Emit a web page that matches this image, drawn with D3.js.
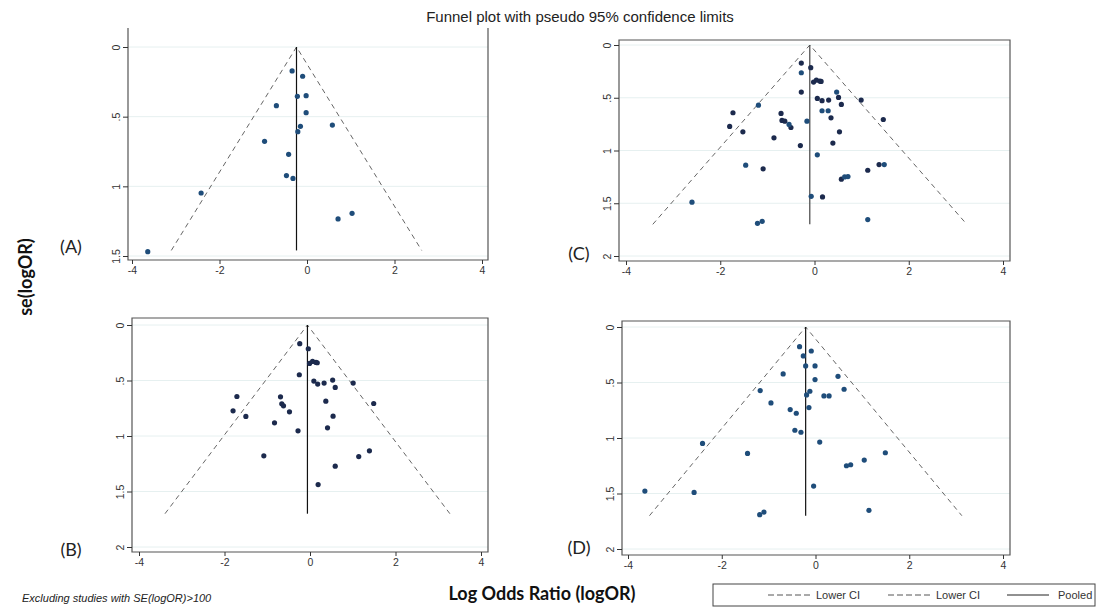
<!DOCTYPE html>
<html>
<head>
<meta charset="utf-8">
<script src="https://cdn.jsdelivr.net/npm/d3@7"></script>
<style>
  body { margin: 0; background: #fff; }
  svg text { font-family: "Liberation Sans", Arial, sans-serif; }
</style>
</head>
<body>
<svg id="chart" width="1106" height="610"></svg>
<script>
// funnel plots, four panels: [logOR, se(logOR)]

var xTicks = [-4, -2, 0, 2, 4];
var yTicksA = [0, 0.5, 1, 1.5];
var yTicksFull = [0, 0.5, 1, 1.5, 2];
var yTickLabels = ["0", ".5", "1", "1.5", "2"];

var pointsA = [
  [-0.34, 0.172], [-0.10, 0.21], [-0.22, 0.354], [-0.02, 0.349], [-0.70, 0.421],
  [-0.02, 0.471], [-0.15, 0.569], [-0.21, 0.608], [0.58, 0.560], [-0.97, 0.677],
  [-0.42, 0.770], [-0.47, 0.923], [-0.32, 0.943], [-2.42, 1.048], [1.03, 1.194],
  [0.71, 1.234], [-3.64, 1.469]
];

var pointsB = [
  [-0.24, 0.168], [-0.04, 0.214], [-0.25, 0.448], [-0.01, 0.346], [0.06, 0.328],
  [0.14, 0.337], [0.17, 0.340], [0.09, 0.505], [0.18, 0.532], [0.33, 0.523],
  [0.53, 0.496], [1.01, 0.523], [0.59, 0.562], [0.37, 0.686], [1.49, 0.707],
  [-1.71, 0.644], [-0.69, 0.647], [-0.66, 0.710], [-0.62, 0.728], [-0.48, 0.782],
  [-1.80, 0.773], [-1.50, 0.824], [-0.83, 0.881], [0.54, 0.821], [0.41, 0.926],
  [-0.28, 0.953], [-1.08, 1.179], [1.14, 1.185], [1.39, 1.134], [0.59, 1.272],
  [0.19, 1.438]
];

// panel C mixes the two marker shades
var pointsCDark = [
  [-0.28, 0.171], [-0.08, 0.215], [-0.02, 0.351], [0.04, 0.332], [0.11, 0.342],
  [0.14, 0.345], [-0.28, 0.446], [0.06, 0.506], [0.16, 0.528], [0.30, 0.522],
  [0.51, 0.497], [0.99, 0.522], [0.57, 0.563], [0.35, 0.690], [1.46, 0.706],
  [-1.73, 0.642], [-0.71, 0.649], [-0.69, 0.715], [-0.63, 0.722], [-0.50, 0.782],
  [-1.80, 0.772], [-1.52, 0.823], [-0.86, 0.880], [0.53, 0.823], [0.39, 0.930],
  [-0.30, 0.953], [-1.09, 1.174], [1.37, 1.133], [1.13, 1.187], [0.57, 1.272],
  [0.17, 1.440]
];
var pointsCBlue = [
  [-0.28, 0.263], [0.47, 0.446], [0.16, 0.623], [0.29, 0.623], [-1.19, 0.570],
  [-0.54, 0.753], [-0.16, 0.722], [0.06, 1.041], [-1.46, 1.139], [1.48, 1.133],
  [0.64, 1.250], [0.71, 1.247], [-0.07, 1.434], [-2.60, 1.490], [-1.21, 1.690],
  [-1.11, 1.671], [1.13, 1.655]
];

var pointsD = [
  [-0.34, 0.177], [-0.09, 0.216], [-0.26, 0.261], [-0.21, 0.351], [-0.01, 0.351],
  [-0.69, 0.423], [-0.01, 0.474], [0.48, 0.444], [-1.18, 0.573], [-0.12, 0.579],
  [-0.19, 0.612], [0.18, 0.621], [0.29, 0.621], [0.61, 0.561], [-0.95, 0.684],
  [-0.54, 0.744], [-0.41, 0.777], [-0.14, 0.726], [-0.44, 0.930], [-0.31, 0.948],
  [-2.41, 1.049], [0.09, 1.037], [-1.45, 1.139], [1.49, 1.133], [1.04, 1.199],
  [0.66, 1.250], [0.75, 1.241], [-0.04, 1.433], [-3.64, 1.478], [-2.59, 1.490],
  [-1.19, 1.691], [-1.10, 1.667], [1.14, 1.652]
];

// pooled estimate and largest se for each panel's funnel
var pooled = { A: -0.24, B: -0.06, C: -0.10, D: -0.21 };
var seMax = { A: 1.46, B: 1.70, C: 1.70, D: 1.70 };

var legendLabels = ["Lower CI", "Lower CI", "Pooled"];

var BLUE = "#1f4d7a", DARK = "#1c2a4d";

var svg = d3.select("#chart");

function funnel(key, box, yTicks, series) {
  var x = d3.scaleLinear().domain([-4, 4]).range(box.xr);
  var y = d3.scaleLinear().domain([0, yTicks[yTicks.length - 1]]).range(box.yr);
  var g = svg.append("g");

  // faint gridlines
  g.selectAll("line.grid").data(yTicks).enter().append("line")
    .attr("x1", box.left).attr("x2", box.right)
    .attr("y1", d => y(d)).attr("y2", d => y(d))
    .attr("stroke", "#e6f0f0").attr("stroke-width", 1);

  // frame (A is cropped at the top in the source)
  var fr = g.append("path")
    .attr("fill", "none").attr("stroke", "#555").attr("stroke-width", 1.2);
  if (box.noTop)
    fr.attr("d", `M${box.left},${box.top}V${box.bottom}H${box.right}V${box.top}`);
  else
    fr.attr("d", `M${box.left},${box.top}H${box.right}V${box.bottom}H${box.left}Z`);

  // funnel: pseudo 95% limits and pooled line
  var p = pooled[key], s = seMax[key];
  var dash = [[p - 1.96 * s, s], [p, 0], [p + 1.96 * s, s]];
  g.append("path")
    .attr("d", d3.line().x(d => x(d[0])).y(d => y(d[1]))(dash))
    .attr("fill", "none").attr("stroke", "#666").attr("stroke-width", 1)
    .attr("stroke-dasharray", "5,4");
  g.append("line")
    .attr("x1", x(p)).attr("x2", x(p)).attr("y1", y(0)).attr("y2", y(s))
    .attr("stroke", box.poolColor || "#111").attr("stroke-width", 1.2);

  series.forEach(function(sr) {
    g.selectAll(null).data(sr.pts).enter().append("circle")
      .attr("cx", d => x(d[0])).attr("cy", d => y(d[1]))
      .attr("r", 2.6).attr("fill", sr.color);
  });

  // axes
  var ax = g.append("g").attr("transform", `translate(0,${box.bottom})`)
    .call(d3.axisBottom(x).tickValues(xTicks).tickSize(4).tickPadding(3)
      .tickFormat(d => String(d)));
  ax.select(".domain").remove();
  ax.selectAll("line").attr("stroke", "#333");
  ax.selectAll("text").attr("font-size", 10.5).attr("fill", "#333")
    .style("font-family", '"Liberation Sans", Arial, sans-serif');

  var ay = g.append("g").attr("transform", `translate(${box.left},0)`)
    .call(d3.axisLeft(y).tickValues(yTicks).tickSize(5)
      .tickFormat((d, i) => yTickLabels[i]));
  ay.select(".domain").remove();
  ay.selectAll("line").attr("stroke", "#333");
  ay.selectAll("text")
    .attr("x", 0).attr("dy", null).attr("y", 0)
    .attr("text-anchor", "middle")
    .attr("transform", "translate(-8,0) rotate(-90)")
    .attr("font-size", 10.5).attr("fill", "#333")
    .style("font-family", '"Liberation Sans", Arial, sans-serif');
}

funnel("A", { left: 128, right: 488, top: 28, bottom: 260, xr: [132, 482], yr: [47, 256], noTop: true },
  yTicksA, [{ pts: pointsA, color: BLUE }]);
funnel("B", { left: 132, right: 488, top: 318, bottom: 552, xr: [139, 481], yr: [325, 547] },
  yTicksFull, [{ pts: pointsB, color: DARK }]);
funnel("C", { left: 619, right: 1010, top: 40, bottom: 261, xr: [626, 1003], yr: [45, 256], poolColor: "#444" },
  yTicksFull, [{ pts: pointsCDark, color: DARK }, { pts: pointsCBlue, color: BLUE }]);
funnel("D", { left: 622, right: 1010, top: 321, bottom: 555, xr: [628, 1003], yr: [327, 549] },
  yTicksFull, [{ pts: pointsD, color: BLUE }]);

// titles and labels
svg.append("text").attr("x", 580).attr("y", 22).attr("text-anchor", "middle")
  .attr("font-size", 15).attr("fill", "#222")
  .text("Funnel plot with pseudo 95% confidence limits");

svg.append("text").attr("transform", "translate(32,277) rotate(-90)")
  .attr("text-anchor", "middle").attr("font-size", 18).attr("font-weight", "bold")
  .style("font-family", "Lato, 'Open Sans', sans-serif").attr("fill", "#111")
  .text("se(logOR)");

svg.append("text").attr("x", 542).attr("y", 600).attr("text-anchor", "middle")
  .attr("font-size", 18).attr("font-weight", "bold")
  .style("font-family", "Lato, 'Open Sans', sans-serif").attr("fill", "#111")
  .text("Log Odds Ratio (logOR)");

[["(A)", 71, 253], ["(B)", 71, 556], ["(C)", 579, 260], ["(D)", 579, 554]].forEach(function(l) {
  svg.append("text").attr("x", l[1]).attr("y", l[2]).attr("text-anchor", "middle")
    .attr("font-size", 18).style("font-family", "Lato, 'Open Sans', sans-serif")
    .attr("fill", "#222").text(l[0]);
});

svg.append("text").attr("x", 22).attr("y", 602)
  .attr("font-size", 11).attr("font-style", "italic").attr("fill", "#222")
  .text("Excluding studies with  SE(logOR)>100");

// legend
var lg = svg.append("g");
lg.append("rect").attr("x", 713).attr("y", 584).attr("width", 382).attr("height", 22)
  .attr("fill", "none").attr("stroke", "#444").attr("stroke-width", 1);
var legX = [768, 888, 1007];
legendLabels.forEach(function(lab, i) {
  lg.append("line").attr("x1", legX[i]).attr("x2", legX[i] + 42)
    .attr("y1", 595).attr("y2", 595)
    .attr("stroke", i < 2 ? "#555" : "#222").attr("stroke-width", 1)
    .attr("stroke-dasharray", i < 2 ? "6,3" : null);
  lg.append("text").attr("x", legX[i] + (i < 2 ? 48 : 51)).attr("y", 599)
    .attr("font-size", 11).attr("fill", "#333").text(lab);
});
</script>
</body>
</html>
